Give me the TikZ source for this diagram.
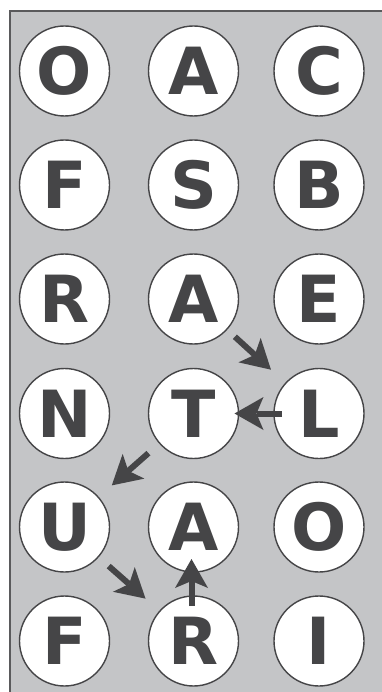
\documentclass[tikz,border=0pt]{standalone}
\usepackage{fontspec}
\newfontfamily\lettfont{DejaVu Sans}
\usetikzlibrary{calc}
\definecolor{bggrey}{HTML}{C4C5C7}
\definecolor{ink}{HTML}{454547}
\definecolor{frame}{HTML}{5A5A5C}
\tikzset{
  cell/.style={circle, draw=ink, line width=1.4pt, fill=white, minimum size=90pt, inner sep=0pt,
    text=ink, font=\lettfont\bfseries\fontsize{65}{65}\selectfont},
  shaft/.style={draw=ink, line width=6pt},
  headfill/.style={fill=ink}
}
% #1 from, #2 to, #3 gap at start, #4 gap at tip
\newcommand\flowarrow[4]{%
  \coordinate (fa-s) at ($(#1)!#3!(#2)$);
  \coordinate (fa-t) at ($(#2)!#4!(#1)$);
  \coordinate (fa-b) at ($(fa-t)!29pt!(fa-s)$);
  \coordinate (fa-i) at ($(fa-t)!22pt!(fa-s)$);
  \draw[shaft] (fa-s) -- (fa-i);
  \fill[headfill] (fa-t) -- ($(fa-b)!16.5pt!90:(fa-t)$) -- (fa-i) -- ($(fa-b)!16.5pt!-90:(fa-t)$) -- cycle;
}
\begin{document}
\begin{tikzpicture}[x=1pt,y=-1pt]
\useasboundingbox (0,0) rectangle (382,692);
\fill[bggrey] (10,11) rectangle (382,692);
\draw[frame, line width=2pt] (10,692) -- (10,11) -- (382,11);
% row 1
\node[cell] (a1) at (64.5,71) {O};
\node[cell] (b1) at (193.5,71) {A};
\node[cell] (c1) at (319,71) {C};
% row 2
\node[cell] (a2) at (64.5,185) {F};
\node[cell] (b2) at (193.5,185) {S};
\node[cell] (c2) at (319,185) {B};
% row 3
\node[cell] (a3) at (64.5,299) {R};
\node[cell] (b3) at (193.5,299) {A};
\node[cell] (c3) at (319,299) {E};
% row 4
\node[cell] (a4) at (64.5,413.5) {N};
\node[cell] (b4) at (193.5,413.5) {T};
\node[cell] (c4) at (319,413.5) {L};
% row 5
\node[cell] (a5) at (64.5,527) {U};
\node[cell] (b5) at (193.5,527) {A};
\node[cell] (c5) at (319,527) {O};
% row 6
\node[cell] (a6) at (64.5,641) {F};
\node[cell] (b6) at (193.5,641) {R};
\node[cell] (c6) at (319,641) {I};
\coordinate (b6s) at ([xshift=-2pt]b6.center);
\coordinate (b5s) at ([xshift=-2pt]b5.center);
% arrows
\flowarrow{b3.center}{c4.center}{56pt}{65pt}
\flowarrow{c4.center}{b4.center}{37pt}{41pt}
\flowarrow{b4.center}{a5.center}{60pt}{63pt}
\flowarrow{a5.center}{b6.center}{59pt}{64pt}
\flowarrow{b6s}{b5s}{35pt}{32pt}
\end{tikzpicture}
\end{document}
